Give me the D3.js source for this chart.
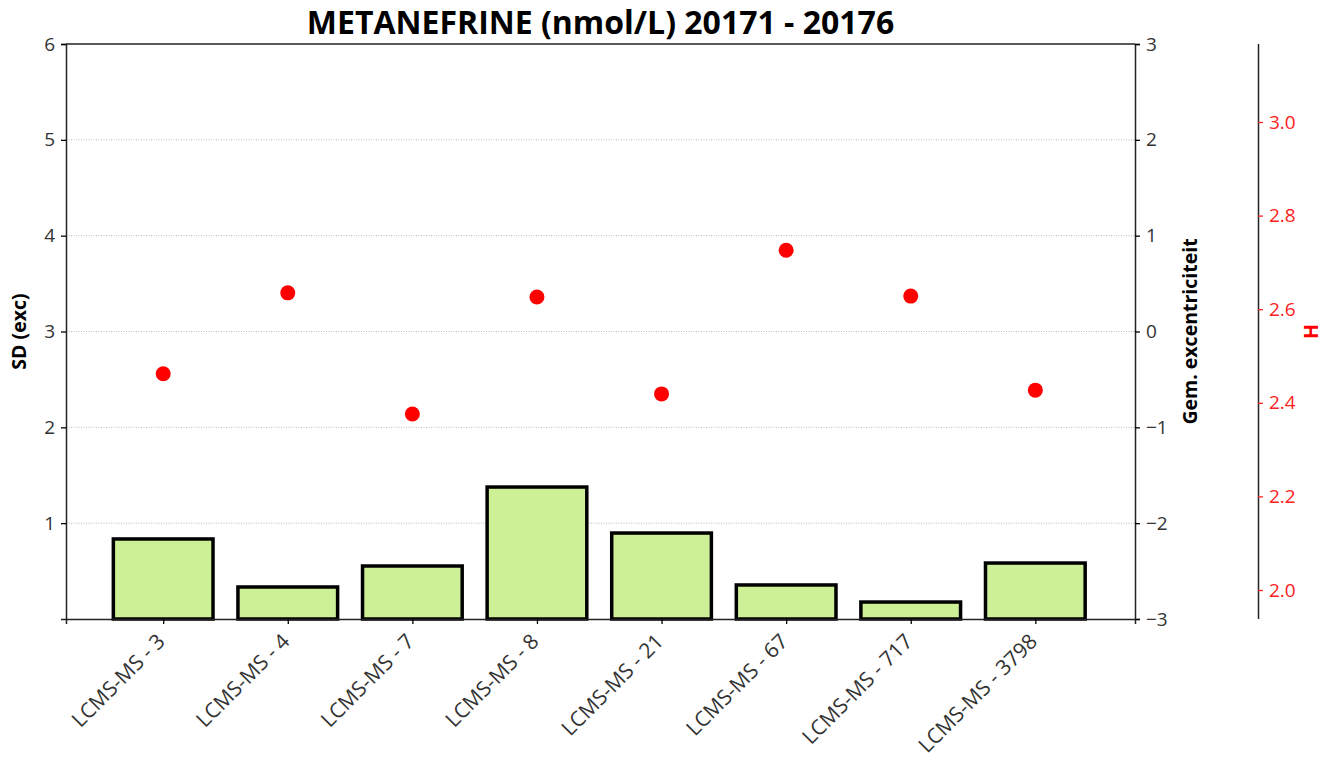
<!DOCTYPE html>
<html>
<head>
<meta charset="utf-8">
<script src="https://cdn.jsdelivr.net/npm/d3@7"></script>
<style>
  body { margin: 0; background: #fff; }
  svg text { font-family: "Open Sans", "DejaVu Sans", sans-serif; }
</style>
</head>
<body>
<div id="chart"></div>
<script>
// data
var categories = ["LCMS-MS - 3", "LCMS-MS - 4", "LCMS-MS - 7", "LCMS-MS - 8",
                  "LCMS-MS - 21", "LCMS-MS - 67", "LCMS-MS - 717", "LCMS-MS - 3798"];
var sdValues = [0.835, 0.334, 0.553, 1.377, 0.897, 0.355, 0.177, 0.584];
var hValues = [2.462, 2.635, 2.376, 2.626, 2.419, 2.726, 2.628, 2.427];
var sdTicks = [1, 2, 3, 4, 5, 6];
var gemTicks = [-3, -2, -1, 0, 1, 2, 3];
var hTicks = [2.0, 2.2, 2.4, 2.6, 2.8, 3.0];

var W = 1323, H = 763;
var pLeft = 66, pRight = 1135, pTop = 44, pBottom = 619;
var hAxisX = 1258;

var svg = d3.select("#chart").append("svg")
  .attr("width", W).attr("height", H);

var x = d3.scaleLinear().domain([-0.78, 7.8]).range([pLeft, pRight]);
var ySd = d3.scaleLinear().domain([0, 6]).range([pBottom, pTop]);
var yGem = d3.scaleLinear().domain([-3, 3]).range([pBottom, pTop]);
var yH = d3.scaleLinear().domain([1.938, 3.1667]).range([pBottom, pTop]);

// grid lines
svg.append("g").selectAll("line")
  .data(sdTicks.filter(function(d) { return d < 6; }))
  .enter().append("line")
  .attr("x1", pLeft).attr("x2", pRight)
  .attr("y1", function(d) { return ySd(d); })
  .attr("y2", function(d) { return ySd(d); })
  .attr("stroke", "#aaa").attr("stroke-width", 0.8)
  .attr("stroke-dasharray", "1,1.5");

// bars
var bw = x(0.8) - x(0);
svg.append("g").selectAll("rect")
  .data(sdValues)
  .enter().append("rect")
  .attr("x", function(d, i) { return x(i) - bw / 2; })
  .attr("y", function(d) { return ySd(d); })
  .attr("width", bw)
  .attr("height", function(d) { return ySd(0) - ySd(d); })
  .attr("fill", "#cdef96")
  .attr("stroke", "#000")
  .attr("stroke-width", 3.5);

// points (H)
svg.append("g").selectAll("circle")
  .data(hValues)
  .enter().append("circle")
  .attr("cx", function(d, i) { return x(i); })
  .attr("cy", function(d) { return yH(d); })
  .attr("r", 7.5)
  .attr("fill", "#ff0000");

// left axis
var gl = svg.append("g")
  .attr("transform", "translate(" + pLeft + ",0)")
  .call(d3.axisLeft(ySd).tickValues(sdTicks).tickSize(5).tickPadding(6).tickFormat(d3.format("d")));

// right axis (Gem. excentriciteit)
var gr = svg.append("g")
  .attr("transform", "translate(" + pRight + ",0)")
  .call(d3.axisRight(yGem).tickValues(gemTicks).tickSize(5).tickPadding(6)
    .tickFormat(function(d) { return d < 0 ? "\u2212" + Math.abs(d) : d; }));

// bottom axis
var gb = svg.append("g")
  .attr("transform", "translate(0," + pBottom + ")")
  .call(d3.axisBottom(x).tickValues(d3.range(categories.length)).tickSize(5)
    .tickFormat(function(d) { return categories[d]; }));
gb.selectAll("text")
  .attr("text-anchor", "end")
  .attr("dx", "0")
  .attr("dy", "0")
  .attr("transform", "translate(-3,18) rotate(-45)");

// top spine
svg.append("line")
  .attr("x1", pLeft).attr("x2", pRight).attr("y1", pTop).attr("y2", pTop)
  .attr("stroke", "#222").attr("stroke-width", 1.5);

// H axis
var gh = svg.append("g")
  .attr("transform", "translate(" + hAxisX + ",0)")
  .call(d3.axisRight(yH).tickValues(hTicks).tickSize(5).tickPadding(6).tickFormat(d3.format(".1f")));

[gl, gr, gb, gh].forEach(function(g) {
  g.select(".domain").attr("stroke", "#222").attr("stroke-width", 1.5);
  g.selectAll(".tick text").style("font-size", "19px").attr("fill", "#333");
  g.selectAll(".tick line").attr("stroke-width", 1.3);
});
gh.selectAll(".tick line").attr("stroke", "#ff2020");
gh.selectAll(".tick text").attr("fill", "#ff2020");
gb.selectAll(".tick text").style("font-size", "21px");
gh.select(".domain").attr("d", "M0.5," + pTop + "V" + pBottom);

// titles
svg.append("text")
  .attr("x", (pLeft + pRight) / 2).attr("y", 34)
  .attr("text-anchor", "middle")
  .style("font-size", "32px").style("font-weight", "bold")
  .text("METANEFRINE (nmol/L) 20171 - 20176");

svg.append("text")
  .attr("transform", "translate(26," + ((pTop + pBottom) / 2) + ") rotate(-90)")
  .attr("text-anchor", "middle")
  .style("font-size", "19.5px").style("font-weight", "bold")
  .text("SD (exc)");

svg.append("text")
  .attr("transform", "translate(1197," + ((pTop + pBottom) / 2) + ") rotate(-90)")
  .attr("text-anchor", "middle")
  .style("font-size", "19.5px").style("font-weight", "bold")
  .text("Gem. excentriciteit");

svg.append("text")
  .attr("transform", "translate(1318," + ((pTop + pBottom) / 2) + ") rotate(-90)")
  .attr("text-anchor", "middle")
  .attr("fill", "#ff0000")
  .style("font-size", "19.5px").style("font-weight", "bold")
  .text("H");
</script>
</body>
</html>
